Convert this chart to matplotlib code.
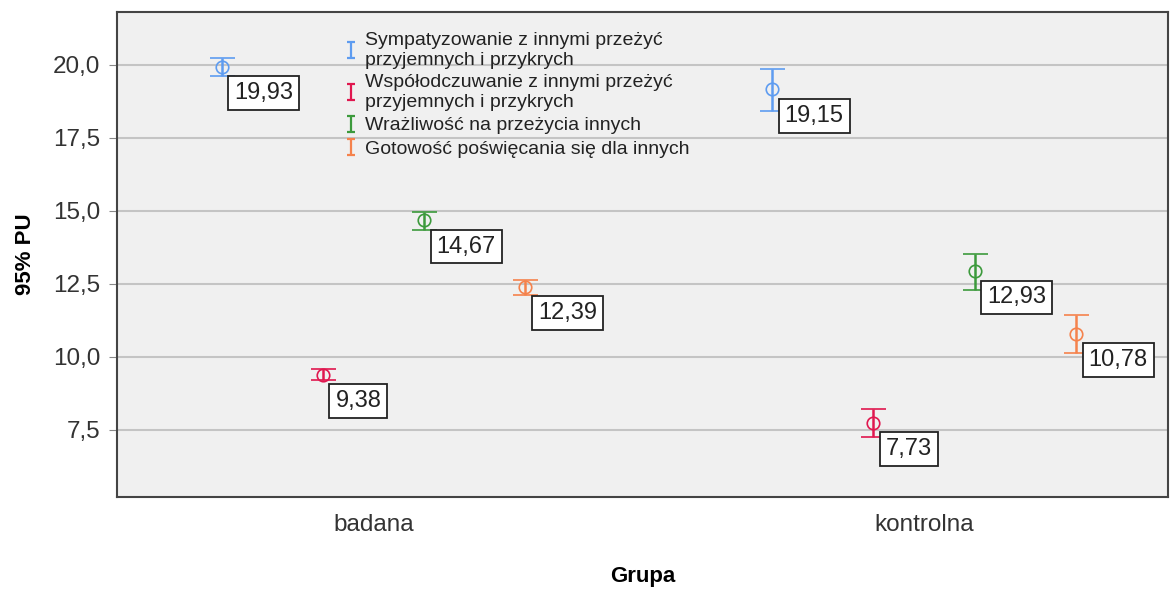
import matplotlib.pyplot as plt
import numpy as np
from matplotlib.path import Path
from matplotlib.lines import Line2D

plt.rcParams['font.family'] = ['Liberation Sans', 'DejaVu Sans']

groups = ['badana', 'kontrolna']
series = ['Sympatyzowanie z innymi przeżyć\nprzyjemnych i przykrych',
          'Współodczuwanie z innymi przeżyć\nprzyjemnych i przykrych',
          'Wrażliwość na przeżycia innych',
          'Gotowość poświęcania się dla innych']
colors = ['#5e9cf0', '#e0174f', '#3c9a3c', '#f5824c']

means = [[19.93, 19.15],
         [9.38, 7.73],
         [14.67, 12.93],
         [12.39, 10.78]]
ci_low = [[19.62, 18.40],
          [9.21, 7.26],
          [14.33, 12.30],
          [12.13, 10.14]]
ci_high = [[20.24, 19.86],
           [9.59, 8.22],
           [14.97, 13.53],
           [12.64, 11.44]]

fig = plt.figure(figsize=(11.72, 5.92), dpi=100)
ax = fig.add_axes([0.0998, 0.1605, 0.8968, 0.8192])
ax.set_facecolor('#f0f0f0')

x = np.arange(len(groups))
offsets = [-1.5, -0.5, 0.5, 1.5]
step = 0.184

for i in range(len(series)):
    xs = x + offsets[i] * step
    m = np.array(means[i])
    lo = m - np.array(ci_low[i])
    hi = np.array(ci_high[i]) - m
    ax.errorbar(xs, m, yerr=[lo, hi], fmt='o', color=colors[i], mfc='none',
                ms=9, mew=1.2, elinewidth=1.8, capsize=9, capthick=1.8, zorder=3)
    for xi, mi in zip(xs, m):
        ax.annotate(f'{mi:.2f}'.replace('.', ','), (xi, mi), xytext=(9, -11),
                    textcoords='offset points', ha='left', va='top', fontsize=17,
                    color='#222222',
                    bbox=dict(boxstyle='square,pad=0.25', fc='white', ec='#222222', lw=1.3),
                    zorder=4)

ax.set_xlim(-0.466, 1.443)
ax.set_ylim(5.2, 21.8)
ax.set_yticks([7.5, 10.0, 12.5, 15.0, 17.5, 20.0])
ax.set_yticklabels(['7,5', '10,0', '12,5', '15,0', '17,5', '20,0'])
ax.set_xticks(x)
ax.set_xticklabels(groups)
ax.tick_params(axis='both', labelsize=17.5, colors='#333333', length=0, pad=12)
ax.tick_params(axis='y', length=6, color='#888888', pad=6)
ax.yaxis.grid(True, color='#c4c4c4', lw=1.5)
ax.set_axisbelow(True)
for s in ax.spines.values():
    s.set_color('#444444')
    s.set_linewidth(1.5)

ax.set_ylabel('95% PU', fontsize=16, fontweight='bold', labelpad=12)
ax.set_xlabel('Grupa', fontsize=16, fontweight='bold', labelpad=22)

# error-bar shaped legend marker
ibar = Path([(-0.5, 1), (0.5, 1), (0, 1), (0, -1), (-0.5, -1), (0.5, -1)],
            [Path.MOVETO, Path.LINETO, Path.MOVETO, Path.LINETO, Path.MOVETO, Path.LINETO])
handles = [Line2D([], [], ls='none', marker=ibar, ms=11, mew=1.6, color=c) for c in colors]
ax.legend(handles, series, loc='upper left', bbox_to_anchor=(0.197, 0.995),
          frameon=False, fontsize=14, handlelength=1.0, handletextpad=0.2,
          labelspacing=0.3, labelcolor='#222222')

fig.savefig('out.png', dpi=100)
